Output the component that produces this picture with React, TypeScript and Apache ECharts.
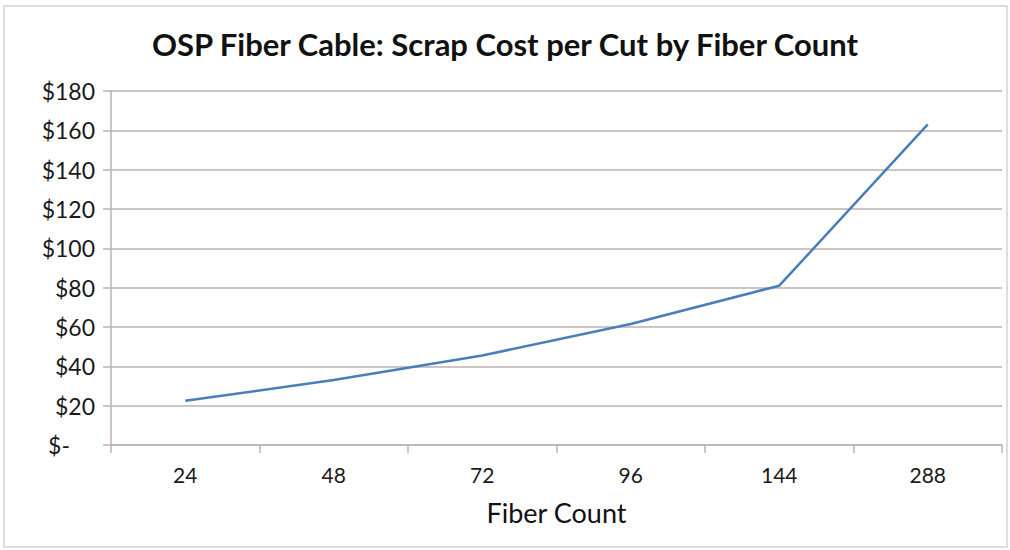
import React, { useEffect, useRef } from "react";
import * as echarts from "echarts";

const title = "OSP Fiber Cable: Scrap Cost per Cut by Fiber Count";
const xAxisTitle = "Fiber Count";
const fiberCounts = ["24", "48", "72", "96", "144", "288"];
const scrapCost = [22.5, 33, 45.5, 61.5, 81, 163];
const yMin = 0;
const yMax = 180;
const yStep = 20;

const FONT = "Lato, 'Open Sans', sans-serif";
const GRID_COLOR = "#bdb2ae";

export default function App() {
  const ref = useRef<HTMLDivElement>(null);

  useEffect(() => {
    if (!ref.current) return;
    const chart = echarts.init(ref.current, null, { renderer: "svg" });
    chart.setOption({
      animation: false,
      backgroundColor: "#ffffff",
      title: {
        text: title,
        left: "center",
        top: 23,
        textStyle: {
          fontFamily: FONT,
          fontWeight: "bold",
          fontSize: 31,
          color: "#111111",
        },
      },
      graphic: [
        {
          type: "rect",
          shape: { x: 4, y: 6, width: 1003, height: 541 },
          style: { fill: "none", stroke: "#d4d4d4", lineWidth: 1.5 },
          silent: true,
        },
      ],
      grid: { left: 111, right: 8, top: 91, bottom: 105 },
      xAxis: {
        type: "category",
        data: fiberCounts,
        boundaryGap: true,
        name: xAxisTitle,
        nameLocation: "middle",
        nameGap: 54,
        nameTextStyle: { fontFamily: FONT, fontSize: 27, color: "#111111" },
        axisLine: { lineStyle: { color: GRID_COLOR, width: 1.5 } },
        axisTick: {
          show: true,
          alignWithLabel: false,
          length: 8,
          lineStyle: { color: GRID_COLOR, width: 1.5 },
        },
        axisLabel: {
          fontFamily: FONT,
          fontSize: 21,
          color: "#1a1a1a",
          margin: 19,
        },
        splitLine: { show: false },
      },
      yAxis: {
        type: "value",
        min: yMin,
        max: yMax,
        interval: yStep,
        axisLine: { show: true, lineStyle: { color: GRID_COLOR, width: 1.5 } },
        axisTick: {
          show: true,
          length: 8,
          lineStyle: { color: GRID_COLOR, width: 1.5 },
        },
        axisLabel: {
          fontFamily: FONT,
          fontSize: 23,
          color: "#1a1a1a",
          margin: 16,
          formatter: (v: number) => (v === 0 ? "{z|$-}" : "$" + v),
          rich: {
            z: {
              fontFamily: FONT,
              fontSize: 23,
              color: "#1a1a1a",
              padding: [0, 25, 0, 0],
            },
          },
        },
        splitLine: { show: true, lineStyle: { color: GRID_COLOR, width: 1.5 } },
      },
      series: [
        {
          type: "line",
          data: scrapCost,
          symbol: "none",
          lineStyle: { color: "#4a7ebb", width: 2.5 },
          itemStyle: { color: "#4a7ebb" },
        },
      ],
    });
    return () => chart.dispose();
  }, []);

  return (
    <div
      ref={ref}
      style={{ position: "fixed", left: 0, top: 0, width: 1010, height: 550 }}
    />
  );
}
